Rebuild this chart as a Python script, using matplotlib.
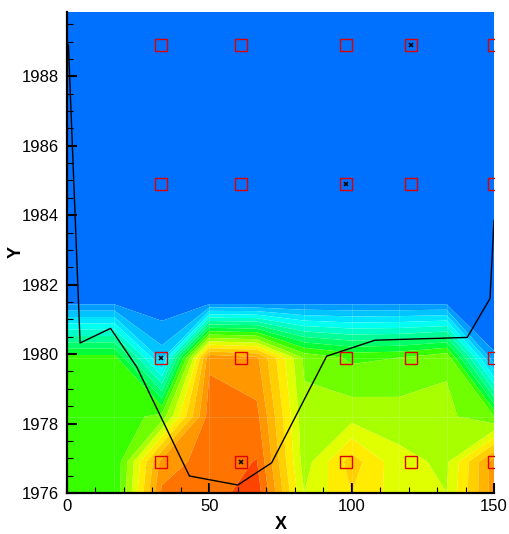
import numpy as np
import matplotlib
matplotlib.use("Agg")
import matplotlib.pyplot as plt
from matplotlib.ticker import MultipleLocator

# ---- data -------------------------------------------------------------
x_nodes = [0, 16.67, 33.33, 50, 66.67, 83.33, 100, 116.67, 133.33, 150]
y_nodes = [1976.0, 1976.9, 1978.2, 1979.9, 1981.45, 1989.85]

z_row_1976_0 = [9.4, 9.0, 17.2, 17.5, 18.6, 12.0, 14.0, 12.5, 12.0, 16.5]
z_row_1976_9 = [9.4, 9.0, 16.4, 17.5, 18.05, 11.5, 14.5, 12.3, 11.8, 16.5]
z_row_1978_2 = [9.4, 9.3, 10.4, 17.5, 17.3, 11.3, 11.6, 11.5, 11.3, 10.0]
z_row_1979_9 = [9.4, 9.4, 2.5, 16.8, 16.2, 10.8, 9.8, 10.0, 10.8, 1.1]
z_row_1981_45 = [0.9, 0.9, 0.3, 0.9, 0.9, 0.9, 0.9, 0.9, 0.9, 0.3]
z_row_top = [0.3, 0.3, 0.3, 0.3, 0.3, 0.3, 0.3, 0.3, 0.3, 0.3]

levels = list(range(20))
band_colors = ["#0070FF", "#009CFF", "#00C4FF", "#00E4FF", "#00FFF0",
               "#00FFC8", "#00FF98", "#00FF68", "#00FF38", "#38FF00",
               "#70FF00", "#A8FF00", "#E0FF00", "#FFEC00", "#FFD000",
               "#FFB400", "#FF9800", "#FF7400", "#FF4400"]

line_x = [0.5, 4.6, 15.3, 24.5, 43.0, 60.0, 71.9, 91.2, 108.2, 140.6, 148.6, 150.0]
line_y = [1988.9, 1980.32, 1980.74, 1979.63, 1976.49, 1976.23, 1976.87,
          1979.94, 1980.4, 1980.48, 1981.6, 1983.85]

marker_x = [33, 61, 98, 121, 150]
marker_y = [1976.9, 1979.9, 1984.9, 1988.9]
flag_x = [121, 98, 33, 61]
flag_y = [1988.9, 1984.9, 1979.9, 1976.9]

x_ticks = [0, 50, 100, 150]
y_ticks = [1976, 1978, 1980, 1982, 1984, 1986, 1988]

# ---- figure -------------------------------------------------------------
plt.rcParams['font.family'] = ['Liberation Sans', 'DejaVu Sans']
fig = plt.figure(figsize=(5.09, 5.34), dpi=100)
ax = fig.add_axes([67/509, 1 - 493/534, (494-67)/509, (493-12)/534])

X, Y = np.meshgrid(x_nodes, y_nodes)
Z = np.array([z_row_1976_0, z_row_1976_9, z_row_1978_2, z_row_1979_9,
              z_row_1981_45, z_row_top])
ax.contourf(X, Y, Z, levels=levels, colors=band_colors, antialiased=True)

# faint mesh seams
for xv in [16.67, 50, 83.33, 100, 116.67, 133.33]:
    ax.plot([xv, xv], [1976, 1981.45], color='white', lw=0.6, alpha=0.18, zorder=2)
for yv in [1978.2, 1979.9]:
    ax.plot([0, 150], [yv, yv], color='white', lw=0.6, alpha=0.18, zorder=2)

ax.plot(line_x, line_y, color='black', lw=1.0, zorder=3)

MX, MY = np.meshgrid(marker_x, marker_y)
ax.plot(MX.ravel(), MY.ravel(), linestyle='none', marker='s', ms=8.4,
        mfc='none', mec='#E00000', mew=1.0, zorder=4)
ax.plot(flag_x, flag_y, linestyle='none', marker='x', ms=3.2,
        mec='black', mew=1.1, zorder=5)

ax.set_xlim(0, 150)
ax.set_ylim(1976, 1989.85)
ax.set_xticks(x_ticks)
ax.set_yticks(y_ticks)
ax.xaxis.set_minor_locator(MultipleLocator(10))
ax.yaxis.set_minor_locator(MultipleLocator(0.5))
ax.tick_params(which='major', direction='in', length=7.5, width=1.5,
               labelsize=12, colors='black')
ax.tick_params(which='minor', direction='in', length=4, width=0.8)
ax.tick_params(axis='y', which='major', pad=6)
ax.tick_params(axis='x', which='major', pad=4)
ax.yaxis.get_major_formatter().set_useOffset(False)

for s in ['top', 'right']:
    ax.spines[s].set_visible(False)
for s in ['left', 'bottom']:
    ax.spines[s].set_linewidth(1.6)

ax.set_xlabel('X', fontsize=13, fontweight='bold', labelpad=2)
ax.set_ylabel('Y', fontsize=13, fontweight='bold')
ax.yaxis.set_label_coords(-0.098, 0.5)

fig.savefig('out.png', dpi=100)
